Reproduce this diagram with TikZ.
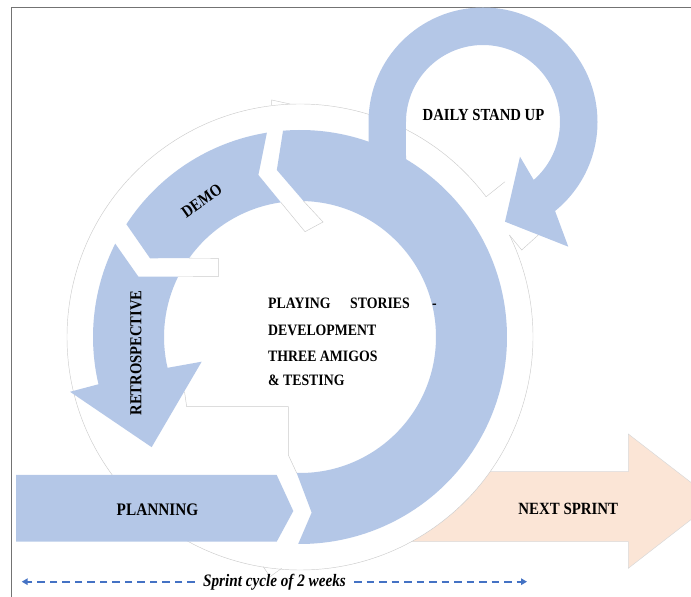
\documentclass[tikz,border=0pt]{standalone}
\usepackage{fontspec}
\setmainfont{Liberation Serif}
\usetikzlibrary{arrows.meta}
\definecolor{sblue}{HTML}{B4C7E7}
\definecolor{speach}{HTML}{FBE5D6}
\definecolor{dblue}{HTML}{4472C4}
\newcommand{\vst}[1]{\scalebox{1}[1.15]{#1}}
\begin{document}
\begin{tikzpicture}[x=1pt,y=1pt,
  halo/.style={draw=black!20, line width=0.45pt},
  lbl/.style={inner sep=0pt, text=black},
  ctext/.style={font=\fontsize{13.8}{16}\selectfont\bfseries},
  cycline/.style={draw=dblue, line width=1.8pt, dash pattern=on 7.5pt off 5pt, -{Triangle[length=6pt,width=6.5pt]}},
]
\useasboundingbox (0,0) rectangle (691,597);
\clip (0,0) rectangle (691,597);
% frame
\draw[black!55, line width=1.3pt] (11.7,-2) -- (11.7,589.7) -- (693,589.7);
% next sprint arrow (behind the halo)
\fill[speach, draw=black!15, line width=0.5pt] (380,125.3) -- (628.3,125.3) -- (628.3,163) -- (715,96) -- (628.3,28.7) -- (628.3,55.3) -- (380,55.3) -- cycle;
\begin{scope}[shift={(300,260)}]
  % halo
  \fill[white] (0,0) circle[radius=233];
  \draw[halo] (37:233) arc[start angle=37, end angle=386, radius=233];
  \draw[halo] (37:233) -- (205,155.3);
  \draw[halo] (25.9:233) -- (221.7,87) -- (238.3,102);
  \draw[halo] (-28.3,232) -- (-28.3,237) -- (-10,233);
  \draw[halo] (-36.7,-229.7) -- (-30,-239.7) -- (-18.3,-231.3);
  % faint outlines of the gaps in the inner area
  \draw[halo] (98.1:136) -- (5,105.3) -- (23,115) -- (88.5:136);
  \draw[halo] (144.6:136) -- (-81.7,78.7) -- (-81.7,60.3) -- (153.7:136);
  \draw[halo] (-115.5,-54.7) -- (-113.3,-69.7) -- (-11.7,-69.7) -- (-11.7,-118) -- (268.6:136);
  % big segment (development)
  \fill[sblue] (269.5:207) -- (273.8:176) -- (268.6:136)
    arc[start angle=268.6, end angle=448.5, radius=136]
    -- (457.9:168.6) -- (454.7:207)
    arc[start angle=454.7, end angle=269.5, radius=207] -- cycle;
  % demo segment
  \fill[sblue] (99.2:207) arc[start angle=99.2, end angle=147, radius=207]
    -- (152.3:169.4) -- (144.6:136)
    arc[start angle=144.6, end angle=98.1, radius=136]
    -- (104.4:167.3) -- cycle;
  % retrospective segment
  \fill[sblue] (153.2:207) -- (159.5:172.6) -- (153.7:136)
    arc[start angle=153.7, end angle=193.1, radius=136]
    -- (194.1:101.4) -- (216.6:184.8) -- (193.4:236.4) -- (193.2:207)
    arc[start angle=193.2, end angle=153.2, radius=207] -- cycle;
\end{scope}
% daily stand up loop
\fill[sblue] (368.5,440) -- (368.5,475) arc[start angle=180, end angle=-51, radius=114.5]
  -- (568.3,350.3) -- (505,375.3) -- (520,440.3) -- (533.7,417.05)
  arc[start angle=-48.8, end angle=180, radius=77] -- (406,430) -- cycle;
% planning arrow
\fill[sblue] (16,122) -- (276.7,122) -- (293.3,86) -- (276.7,55.3) -- (16,55.3) -- cycle;
% labels
\node[lbl, font=\fontsize{14.7}{17}\selectfont\bfseries] (daily) at (483.5,482) {\vst{DAILY STAND UP}};
\node[lbl, font=\fontsize{14.5}{17}\selectfont\bfseries, rotate=35] (demo) at (201.7,396.2) {\vst{DEMO}};
\node[lbl, font=\fontsize{14.6}{17}\selectfont\bfseries, rotate=90] (retro) at (136,244) {\vst{RETROSPECTIVE}};
\node[lbl, ctext, anchor=base west] (play) at (268,288.8) {\vst{PLAYING}};
\node[lbl, ctext, anchor=base west] (stor) at (350,288.8) {\vst{STORIES}};
\node[lbl, ctext, anchor=base west] (hyph) at (432,288.8) {\vst{-}};
\node[lbl, ctext, anchor=base west] (dev) at (268,261.8) {\vst{DEVELOPMENT}};
\node[lbl, ctext, anchor=base west] (three) at (268,235.8) {\vst{THREE AMIGOS}};
\node[lbl, ctext, anchor=base west] (test) at (268,211.8) {\vst{\&\ TESTING}};
\node[lbl, font=\fontsize{15.3}{17}\selectfont\bfseries] (plan) at (157.5,87) {\vst{PLANNING}};
\node[lbl, font=\fontsize{14.9}{17}\selectfont\bfseries] (next) at (568.3,87.7) {\vst{NEXT SPRINT}};
% sprint cycle
\node[inner xsep=8pt, inner ysep=0pt, anchor=base, font=\fontsize{15.2}{17}\selectfont\bfseries\itshape] (cyc) at (274.5,10.3) {\vst{Sprint cycle of 2 weeks}};
\coordinate (cl) at (21.7,15.3);
\coordinate (cr) at (527,15.3);
\draw[cycline] (cyc.west |- cl) -- (cl);
\draw[cycline] (cyc.east |- cr) -- (cr);
\end{tikzpicture}
\end{document}
